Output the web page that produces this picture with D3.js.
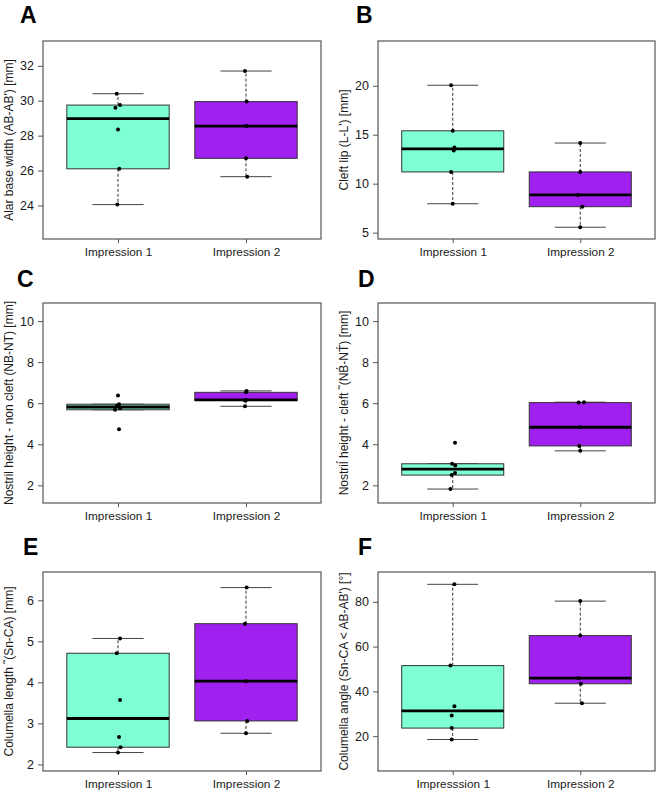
<!DOCTYPE html>
<html>
<head>
<meta charset="utf-8">
<script src="https://cdn.jsdelivr.net/npm/d3@7"></script>
<style>
  body { margin: 0; background: #fff; }
  svg { display: block; font-family: "Liberation Sans", Arial, sans-serif; }
</style>
</head>
<body>
<script>
// values, one array per group
const alarImp1 = [24.05, 26.1, 28.35, 29.6, 29.75, 30.4];
const alarImp2 = [25.65, 26.7, 28.55, 29.95, 31.7];
const lipImp1 = [7.95, 11.2, 13.4, 13.7, 15.4, 20.05];
const lipImp2 = [5.55, 7.65, 8.85, 11.2, 14.15];
const nonCleftImp1 = [4.73, 5.68, 5.75, 5.88, 5.95, 6.38];
const nonCleftImp2 = [5.85, 6.13, 6.16, 6.53, 6.6];
const cleftImp1 = [1.82, 2.5, 2.6, 2.97, 3.05, 4.07];
const cleftImp2 = [3.68, 3.92, 4.83, 6.03, 6.05];
const colLenImp1 = [2.29, 2.42, 2.67, 3.57, 4.71, 5.07];
const colLenImp2 = [2.76, 3.06, 4.03, 5.43, 6.31];
const colAngImp1 = [18.5, 23.6, 29.2, 33.3, 51.5, 87.8];
const colAngImp2 = [34.7, 43.4, 45.9, 64.9, 80.3];

// horizontal jitter of the dots (in group units)
const alarJit1 = [-0.005, 0.01, 0, -0.02, 0.016, -0.01];
const alarJit2 = [0.01, 0, 0.005, 0.005, -0.008];
const lipJit1 = [0, -0.013, 0.008, 0.013, 0, -0.013];
const lipJit2 = [0, 0.016, -0.018, 0, 0];
const nonCleftJit1 = [0.008, -0.023, 0.016, -0.01, 0.008, 0];
const nonCleftJit2 = [-0.008, -0.008, 0, 0, 0.005];
const cleftJit1 = [-0.018, -0.008, 0.018, 0.02, -0.005, 0.018];
const cleftJit2 = [0, -0.008, 0, -0.013, 0.029];
const colLenJit1 = [0, 0.02, 0.008, 0.016, -0.01, 0.016];
const colLenJit2 = [0, 0.01, 0, -0.008, 0.005];
const colAngJit1 = [-0.008, -0.008, -0.008, 0.013, -0.018, 0.013];
const colAngJit2 = [0.013, 0.005, -0.013, 0, 0];

const panelLetters = ["A", "B", "C", "D", "E", "F"];
const yLabels = [
  "Alar base width (AB-AB') [mm]",
  "Cleft lip (L-L') [mm]",
  "Nostril height - non cleft (NB-NT) [mm]",
  "Nostril\u0301 height - cleft \u02dc(NB\u0301-NT\u0301) [mm]",
  "Columella length \u02dc(Sn-CA) [mm]",
  "Columella angle (Sn-CA < AB-AB') [°]"
];
const xLabels = [
  ["Impression 1", "Impression 2"],
  ["Impression 1", "Impression 2"],
  ["Impression 1", "Impression 2"],
  ["Impression 1", "Impression 2"],
  ["Impression 1", "Impression 2"],
  ["Impresssion 1", "Impression 2"]
];
const yTicks = [
  [24, 26, 28, 30, 32],
  [5, 10, 15, 20],
  [2, 4, 6, 8, 10],
  [2, 4, 6, 8, 10],
  [2, 3, 4, 5, 6],
  [20, 40, 60, 80]
];
const yDomains = [
  [22.08, 33.42],
  [4.35, 24.57],
  [1.14, 10.88],
  [1.14, 10.88],
  [1.84, 6.69],
  [4.44, 93.3]
];
const groups = [
  [alarImp1, alarImp2], [lipImp1, lipImp2], [nonCleftImp1, nonCleftImp2],
  [cleftImp1, cleftImp2], [colLenImp1, colLenImp2], [colAngImp1, colAngImp2]
];
const jitters = [
  [alarJit1, alarJit2], [lipJit1, lipJit2], [nonCleftJit1, nonCleftJit2],
  [cleftJit1, cleftJit2], [colLenJit1, colLenJit2], [colAngJit1, colAngJit2]
];
const fills = ["#7fffd4", "#a020f0"];

// plot frames and letter positions on the page
const layout = [
  { x0: 43, x1: 321, y0: 41, y1: 239, tx: 20, ty: 23 },
  { x0: 378, x1: 655, y0: 41, y1: 239, tx: 356, ty: 23 },
  { x0: 43, x1: 321, y0: 303, y1: 503, tx: 17, ty: 287 },
  { x0: 378, x1: 655, y0: 303, y1: 503, tx: 358, ty: 287 },
  { x0: 43, x1: 321, y0: 572, y1: 771, tx: 23, ty: 555 },
  { x0: 378, x1: 655, y0: 572, y1: 771, tx: 358, ty: 555 }
];

// Tukey hinges like R's boxplot.stats
function boxStats(values) {
  const x = values.slice().sort((a, b) => a - b);
  const n = x.length;
  const n4 = Math.floor((n + 3) / 2) / 2;
  const at = d => 0.5 * (x[Math.floor(d) - 1] + x[Math.ceil(d) - 1]);
  const q1 = at(n4), med = at((n + 1) / 2), q3 = at(n + 1 - n4);
  const iqr = q3 - q1;
  const lo = d3.min(x.filter(v => v >= q1 - 1.5 * iqr));
  const hi = d3.max(x.filter(v => v <= q3 + 1.5 * iqr));
  return { q1, med, q3, lo, hi };
}

const svg = d3.select("body").append("svg")
  .attr("width", 660)
  .attr("height", 797);

svg.append("rect").attr("width", 660).attr("height", 797).attr("fill", "#fff");

layout.forEach((p, i) => {
  const g = svg.append("g");

  const x = d3.scaleLinear().domain([0.414, 2.586]).range([p.x0, p.x1]);
  const y = d3.scaleLinear().domain(yDomains[i]).range([p.y1, p.y0]);

  // panel letter
  g.append("text")
    .attr("x", p.tx)
    .attr("y", p.ty)
    .attr("font-size", 23)
    .attr("font-weight", "bold")
    .attr("fill", "#000")
    .text(panelLetters[i]);

  groups[i].forEach((vals, k) => {
    const s = boxStats(vals);
    const cx = x(k + 1);
    const halfBox = x(1.4) - x(1);
    const halfStaple = x(1.2) - x(1);

    // whiskers
    g.append("line")
      .attr("x1", cx).attr("x2", cx)
      .attr("y1", y(s.q3)).attr("y2", y(s.hi))
      .attr("stroke", "#333").attr("stroke-dasharray", "3,2");
    g.append("line")
      .attr("x1", cx).attr("x2", cx)
      .attr("y1", y(s.q1)).attr("y2", y(s.lo))
      .attr("stroke", "#333").attr("stroke-dasharray", "3,2");

    // staples
    [s.lo, s.hi].forEach(v => {
      g.append("line")
        .attr("x1", cx - halfStaple).attr("x2", cx + halfStaple)
        .attr("y1", y(v)).attr("y2", y(v))
        .attr("stroke", "#444");
    });

    // box
    g.append("rect")
      .attr("x", cx - halfBox)
      .attr("y", y(s.q3))
      .attr("width", 2 * halfBox)
      .attr("height", y(s.q1) - y(s.q3))
      .attr("fill", fills[k])
      .attr("stroke", "#333")
      .attr("stroke-width", 1);

    // median
    g.append("line")
      .attr("x1", cx - halfBox).attr("x2", cx + halfBox)
      .attr("y1", y(s.med)).attr("y2", y(s.med))
      .attr("stroke", "#000").attr("stroke-width", 2.8);

    // points
    g.selectAll(null)
      .data(vals.map((v, j) => ({ v, j: jitters[i][k][j] })))
      .join("circle")
      .attr("cx", d => x(k + 1 + d.j))
      .attr("cy", d => y(d.v))
      .attr("r", 2)
      .attr("fill", "#000");
  });

  // frame
  g.append("rect")
    .attr("x", p.x0).attr("y", p.y0)
    .attr("width", p.x1 - p.x0).attr("height", p.y1 - p.y0)
    .attr("fill", "none")
    .attr("stroke", "#555")
    .attr("stroke-width", 1.2);

  // y axis
  const ya = g.append("g")
    .attr("transform", `translate(${p.x0},0)`)
    .call(d3.axisLeft(y).tickValues(yTicks[i]).tickSize(5).tickPadding(4)
      .tickFormat(d => String(d)));
  ya.select(".domain").remove();
  ya.selectAll("line").attr("stroke", "#555");
  ya.selectAll("text").attr("font-size", 12.5).attr("fill", "#1a1a1a")
    .attr("font-family", "Liberation Sans, Arial, sans-serif");

  // x axis
  const xa = g.append("g")
    .attr("transform", `translate(0,${p.y1})`)
    .call(d3.axisBottom(x).tickValues([1, 2]).tickSize(4).tickPadding(5)
      .tickFormat(d => xLabels[i][d - 1]));
  xa.select(".domain").remove();
  xa.selectAll("line").attr("stroke", "#555");
  xa.selectAll("text").attr("font-size", 11.8).attr("fill", "#1a1a1a")
    .attr("font-family", "Liberation Sans, Arial, sans-serif");

  // y label
  g.append("text")
    .attr("transform", `translate(${p.x0 - 30},${(p.y0 + p.y1) / 2}) rotate(-90)`)
    .attr("text-anchor", "middle")
    .attr("font-size", 12)
    .attr("fill", "#1a1a1a")
    .text(yLabels[i]);
});
</script>
</body>
</html>
